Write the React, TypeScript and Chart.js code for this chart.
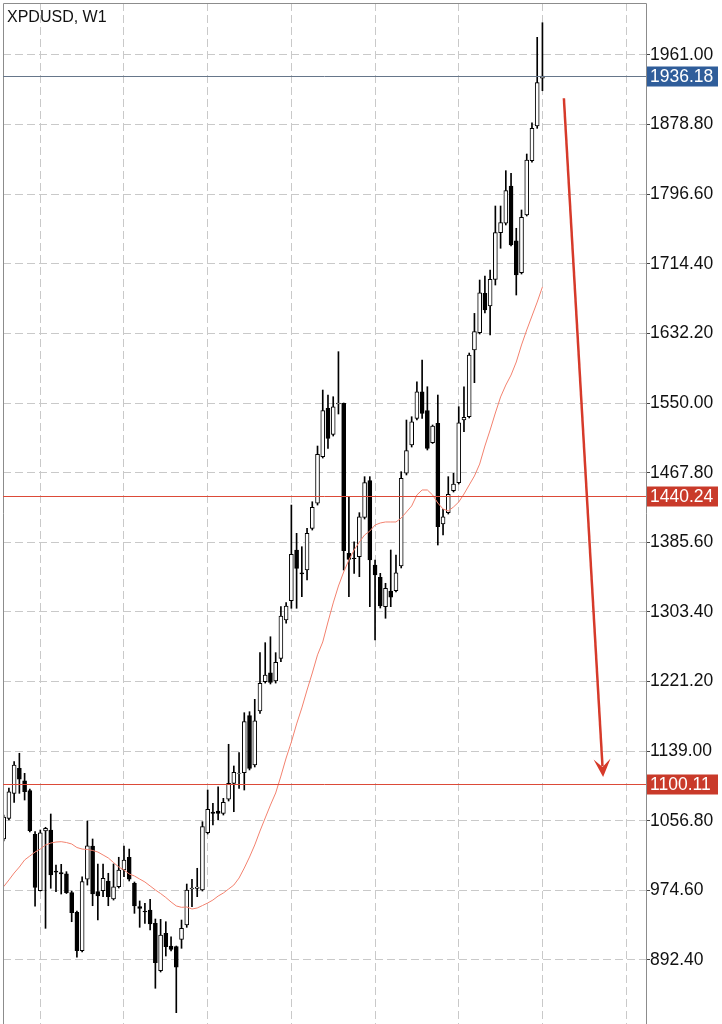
import React, { useEffect, useRef } from "react";
import { Chart, registerables } from "chart.js";

Chart.register(...registerables);

const TITLE = "XPDUSD, W1";

// Weekly OHLC, oldest first
const OPEN = [
  1035.3, 1059.7, 1089.2, 1118.7, 1104.1, 1092.3, 1040.9, 974.2, 1044.7, 1045.9,
  997.5, 995.5, 994.0, 971.9, 948.7, 903.4, 987.7, 1027.0, 973.1, 974.2,
  985.7, 964.4, 978.9, 998.7, 1013.7, 983.0, 955.6, 950.3, 951.4, 935.7,
  879.8, 923.9, 908.9, 908.1, 916.8, 933.7, 976.2, 977.0, 975.1, 1042.7,
  1067.2, 1068.3, 1065.6, 1082.2, 1101.0, 1112.6, 1113.6, 1180.9, 1122.6, 1186.4,
  1221.0, 1231.6, 1221.8, 1248.6, 1293.9, 1316.6, 1376.5, 1349.7, 1352.9, 1402.1,
  1431.7, 1486.7, 1543.8, 1513.1, 1548.9, 1549.7, 1372.6, 1367.1, 1368.6, 1415.1,
  1458.4, 1358.8, 1344.3, 1309.6, 1328.1, 1328.5, 1357.6, 1467.1, 1500.5, 1532.0,
  1563.4, 1541.0, 1503.2, 1526.1, 1407.2, 1420.6, 1446.5, 1456.0, 1530.0, 1533.9,
  1612.7, 1633.1, 1679.6, 1664.6, 1696.1, 1751.2, 1762.3, 1806.3, 1741.7, 1703.9,
  1772.2, 1836.2, 1877.2, 1933.5,
];
const HIGH = [
  1063.6, 1095.5, 1126.6, 1136.5, 1112.8, 1094.3, 1043.9, 1045.9, 1049.1, 1064.8,
  1004.6, 1005.4, 996.7, 973.9, 950.3, 990.7, 1056.5, 1035.3, 1005.8, 1005.8,
  994.8, 1005.8, 1013.7, 1027.0, 1023.4, 984.5, 962.1, 959.3, 964.1, 940.8,
  940.4, 937.6, 919.9, 908.9, 939.6, 982.1, 987.7, 1000.7, 1055.7, 1093.1,
  1077.4, 1097.0, 1083.3, 1147.1, 1121.5, 1137.2, 1184.4, 1185.6, 1200.2, 1255.3,
  1267.1, 1274.1, 1255.3, 1309.6, 1314.3, 1429.6, 1396.2, 1380.4, 1402.1, 1433.5,
  1499.3, 1565.4, 1559.5, 1557.5, 1610.7, 1550.1, 1439.4, 1386.3, 1420.6, 1463.1,
  1463.1, 1364.7, 1349.0, 1337.2, 1376.5, 1370.6, 1469.0, 1530.0, 1533.9, 1575.2,
  1600.9, 1569.3, 1524.1, 1559.5, 1424.6, 1463.1, 1467.1, 1545.7, 1569.3, 1609.1,
  1655.9, 1695.3, 1700.0, 1707.1, 1782.7, 1782.7, 1824.4, 1821.3, 1756.4, 1778.0,
  1844.1, 1881.0, 1981.9, 1999.1,
];
const LOW = [
  1032.9, 1057.7, 1078.5, 1089.2, 1081.3, 1043.5, 956.1, 973.9, 929.8, 977.1,
  973.1, 970.3, 970.9, 937.6, 895.6, 901.8, 980.9, 956.5, 939.6, 967.2,
  956.5, 963.2, 977.4, 990.7, 985.7, 947.5, 931.0, 935.7, 927.8, 859.0,
  878.2, 897.1, 903.0, 830.2, 906.2, 931.0, 955.3, 967.2, 973.9, 1041.2,
  1051.8, 1057.7, 1063.6, 1080.1, 1067.5, 1095.1, 1093.1, 1116.8, 1120.3, 1183.7,
  1219.4, 1218.3, 1219.4, 1244.6, 1290.0, 1307.7, 1307.7, 1321.4, 1341.1, 1400.1,
  1429.6, 1485.1, 1496.6, 1511.1, 1537.1, 1352.9, 1321.4, 1349.0, 1345.0, 1413.1,
  1309.6, 1270.2, 1308.0, 1295.9, 1309.6, 1326.9, 1355.3, 1465.1, 1498.1, 1530.0,
  1532.0, 1494.6, 1502.3, 1382.4, 1394.2, 1419.0, 1445.0, 1454.4, 1516.2, 1532.4,
  1574.1, 1631.6, 1656.4, 1630.4, 1689.4, 1732.8, 1760.3, 1735.5, 1677.6, 1702.4,
  1770.9, 1834.6, 1874.4, 1918.8,
];
const CLOSE = [
  1061.3, 1091.1, 1122.6, 1105.8, 1091.1, 1045.1, 978.2, 1042.7, 1047.9, 992.8,
  996.0, 994.0, 971.9, 948.3, 903.4, 984.9, 1027.3, 970.3, 968.1, 988.9,
  967.2, 978.9, 998.7, 1010.5, 987.7, 956.2, 953.2, 949.1, 934.9, 889.2,
  921.9, 908.1, 905.0, 883.8, 929.8, 975.1, 977.4, 978.6, 1049.8, 1070.3,
  1065.4, 1065.6, 1078.6, 1101.0, 1114.0, 1113.2, 1173.8, 1118.7, 1174.9, 1219.1,
  1228.9, 1220.3, 1243.9, 1298.6, 1310.4, 1371.4, 1354.9, 1348.2, 1396.2, 1426.9,
  1489.5, 1541.0, 1508.4, 1545.7, 1550.1, 1375.7, 1365.5, 1366.2, 1415.8, 1456.0,
  1364.7, 1347.0, 1310.4, 1331.3, 1320.7, 1349.7, 1461.2, 1493.8, 1528.0, 1563.4,
  1537.9, 1496.6, 1522.9, 1404.0, 1415.8, 1442.3, 1454.4, 1526.8, 1533.2, 1606.8,
  1634.3, 1680.3, 1659.9, 1696.1, 1751.2, 1763.0, 1800.8, 1736.6, 1701.2, 1769.4,
  1837.0, 1874.4, 1928.3, 1936.18,
];
// Moving average (red line)
const MA = [
  979.0, 986.9, 995.1, 1002.2, 1010.5, 1015.2, 1019.9, 1023.4, 1028.2, 1030.5,
  1031.7, 1032.1, 1031.1, 1029.4, 1025.2, 1023.4, 1022.9, 1021.7, 1019.9, 1016.4,
  1012.9, 1007.5, 1002.2, 998.7, 994.0, 991.6, 988.0, 984.5, 979.8, 975.1,
  970.9, 966.2, 960.9, 956.2, 954.6, 955.0, 952.6, 953.8, 956.7, 959.7,
  963.2, 967.9, 971.5, 976.2, 980.9, 989.2, 1001.0, 1014.0, 1028.2, 1044.7,
  1060.1, 1075.4, 1089.6, 1109.6, 1130.9, 1149.8, 1171.1, 1190.0, 1211.2, 1231.3,
  1252.7, 1267.9, 1291.5, 1314.0, 1334.0, 1350.5, 1364.7, 1376.5, 1385.9, 1394.2,
  1398.9, 1406.0, 1408.4, 1409.6, 1409.6, 1409.6, 1414.3, 1421.4, 1428.5, 1441.5,
  1447.4, 1447.4, 1441.5, 1432.0, 1424.9, 1422.6, 1427.3, 1433.2, 1442.6, 1453.3,
  1463.9, 1478.0, 1499.3, 1518.2, 1538.3, 1557.2, 1571.3, 1583.1, 1598.5, 1618.6,
  1636.3, 1652.8, 1669.3, 1687.1,
];

const Y_TICKS = [
  892.4, 974.6, 1056.8, 1139.0, 1221.2, 1303.4, 1385.6, 1467.8, 1550.0, 1632.2,
  1714.4, 1796.6, 1878.8, 1961.0,
];
const X_GRID = [7, 23, 39, 55, 71, 87, 103, 119];
const Y_MIN = 816.83;
const Y_MAX = 2022.4;
const X_MIN = -0.13;
const X_MAX = 122.8;

const LAST_PRICE = 1936.18;
const LEVELS = [1440.24, 1100.11];
const ARROW_FROM = [107.1, 1909.9];
const ARROW_TO = [114.6, 1108.5];

const FONT = "'Liberation Sans', Arial, Helvetica, sans-serif";
const RED_LINE = "#dc4a38";
const RED_BOX = "#c93a2a";
const BLUE_BOX = "#2f5d9a";

const overlayPlugin = {
  id: "overlay",
  afterDraw(chart: any) {
    const { ctx, chartArea, scales } = chart;
    const xs = scales.x;
    const ys = scales.y;
    ctx.save();
    // frame
    ctx.strokeStyle = "#8c8c8c";
    ctx.lineWidth = 1;
    ctx.beginPath();
    ctx.moveTo(chartArea.left + 0.5, chartArea.bottom);
    ctx.lineTo(chartArea.left + 0.5, chartArea.top + 0.5);
    ctx.lineTo(chartArea.right + 0.5, chartArea.top + 0.5);
    ctx.lineTo(chartArea.right + 0.5, chartArea.bottom);
    ctx.stroke();

    const drawLevel = (value: number, lineColor: string, boxColor: string) => {
      const y = Math.round(ys.getPixelForValue(value)) + 0.5;
      ctx.strokeStyle = lineColor;
      ctx.lineWidth = 1;
      ctx.beginPath();
      ctx.moveTo(chartArea.left, y);
      ctx.lineTo(chartArea.right, y);
      ctx.stroke();
      ctx.fillStyle = boxColor;
      ctx.fillRect(chartArea.right + 1, y - 10, 71, 20);
      ctx.fillStyle = "#ffffff";
      ctx.font = `17.5px ${FONT}`;
      ctx.textAlign = "left";
      ctx.textBaseline = "middle";
      ctx.fillText(value.toFixed(2), chartArea.right + 4, y + 1);
    };
    drawLevel(LAST_PRICE, "#66768a", BLUE_BOX);
    LEVELS.forEach((v) => drawLevel(v, RED_LINE, RED_BOX));

    // arrow
    const x1 = xs.getPixelForValue(ARROW_FROM[0]);
    const y1 = ys.getPixelForValue(ARROW_FROM[1]);
    const x2 = xs.getPixelForValue(ARROW_TO[0]);
    const y2 = ys.getPixelForValue(ARROW_TO[1]);
    const ang = Math.atan2(y2 - y1, x2 - x1);
    const c = Math.cos(ang);
    const s = Math.sin(ang);
    const headLen = 18;
    const headW = 8.5;
    ctx.strokeStyle = "#d63a2a";
    ctx.fillStyle = "#d63a2a";
    ctx.lineWidth = 2.5;
    ctx.beginPath();
    ctx.moveTo(x1, y1);
    ctx.lineTo(x2 - c * headLen * 0.6, y2 - s * headLen * 0.6);
    ctx.stroke();
    const bx = x2 - c * headLen;
    const by = y2 - s * headLen;
    ctx.beginPath();
    ctx.moveTo(x2, y2);
    ctx.lineTo(bx - s * headW, by + c * headW);
    ctx.lineTo(x2 - c * headLen * 0.55, y2 - s * headLen * 0.55);
    ctx.lineTo(bx + s * headW, by - c * headW);
    ctx.closePath();
    ctx.fill();

    // title
    ctx.fillStyle = "#111111";
    ctx.font = `16px ${FONT}`;
    ctx.textAlign = "left";
    ctx.textBaseline = "alphabetic";
    ctx.fillText(TITLE, 7, 22);
    ctx.restore();
  },
};

export default function App() {
  const ref = useRef<HTMLCanvasElement | null>(null);
  useEffect(() => {
    document.body.style.margin = "0";
    if (!ref.current) return;
    const idx = OPEN.map((_, i) => i);
    const chart = new Chart(ref.current, {
      type: "bar",
      data: {
        datasets: [
          {
            type: "line",
            label: "MA",
            data: idx.map((i) => ({ x: i, y: MA[i] })),
            borderColor: "#f3826f",
            borderWidth: 1,
            pointRadius: 0,
            tension: 0,
            order: 0,
          } as any,
          {
            label: "body",
            data: idx.map((i) => ({ x: i, y: [OPEN[i], CLOSE[i]] })),
            backgroundColor: idx.map((i) => (CLOSE[i] >= OPEN[i] ? "#ffffff" : "#000000")),
            borderColor: "#000000",
            borderWidth: 1,
            borderSkipped: false,
            barThickness: 4,
            grouped: false,
            order: 1,
          } as any,
          {
            label: "wick",
            data: idx.map((i) => ({ x: i, y: [LOW[i], HIGH[i]] })),
            backgroundColor: "#000000",
            borderWidth: 0,
            barThickness: 1,
            grouped: false,
            order: 2,
          } as any,
        ],
      },
      options: {
        responsive: false,
        animation: false,
        layout: { padding: { left: 3, top: 3, right: 0, bottom: 0 } },
        plugins: { legend: { display: false }, tooltip: { enabled: false } },
        scales: {
          x: {
            type: "linear",
            min: X_MIN,
            max: X_MAX,
            offset: false,
            afterBuildTicks: (scale: any) => {
              scale.ticks = X_GRID.map((v) => ({ value: v }));
            },
            afterFit: (scale: any) => {
              scale.height = 0;
              scale.paddingLeft = 0;
              scale.paddingRight = 0;
            },
            ticks: { display: false },
            grid: { color: "#c9c9c9", drawTicks: false, lineWidth: 1, offset: false },
            border: { display: false, dash: [8, 4] },
          },
          y: {
            type: "linear",
            position: "right",
            min: Y_MIN,
            max: Y_MAX,
            afterBuildTicks: (scale: any) => {
              scale.ticks = Y_TICKS.map((v) => ({ value: v }));
            },
            afterFit: (scale: any) => {
              scale.width = 76;
              scale.paddingTop = 0;
              scale.paddingBottom = 0;
            },
            ticks: {
              padding: 0,
              color: "#111111",
              font: { family: FONT, size: 17.5 },
              callback: (v: any) => Number(v).toFixed(2),
            },
            grid: {
              color: "#c9c9c9",
              lineWidth: 1,
              drawTicks: true,
              tickLength: 4,
              tickColor: "#444444",
            },
            border: { display: false, dash: [8, 4] },
          },
        },
      } as any,
      plugins: [overlayPlugin],
    });
    return () => chart.destroy();
  }, []);
  return (
    <div style={{ width: 722, height: 1024, background: "#ffffff" }}>
      <canvas ref={ref} width={722} height={1024} style={{ display: "block" }} />
    </div>
  );
}
